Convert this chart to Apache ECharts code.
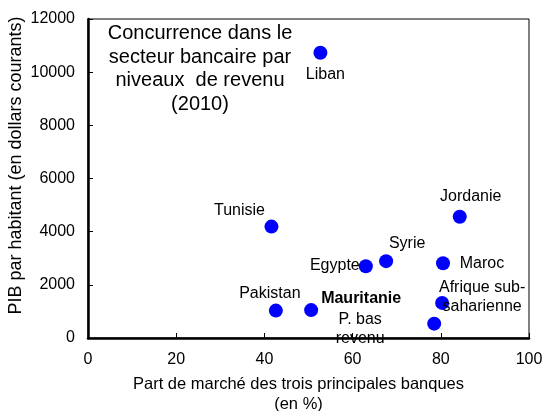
<!DOCTYPE html>
<html>
<head>
	<meta charset="utf-8" />
	<script src="https://cdn.jsdelivr.net/npm/echarts@6/dist/echarts.min.js"></script>
	<style>
		html, body { margin: 0; padding: 0; background: #fff; }
	</style>
</head>
<body>
	<div id="main" style="width: 543px;height:411px;"></div>

	<script type="text/javascript">
		// données
		var pays = ['Liban', 'Tunisie', 'Jordanie', 'Syrie', 'Egypte', 'Maroc',
			'Afrique sub-saharienne', 'P. bas revenu', 'Mauritanie', 'Pakistan'];
		var partMarche = [52.7, 41.6, 84.3, 67.6, 63.0, 80.5, 80.3, 78.5, 50.6, 42.6];
		var pibHabitant = [10730, 4190, 4560, 2890, 2700, 2810, 1320, 540, 1050, 1030];

		var xTicks = [0, 20, 40, 60, 80, 100];
		var yTicks = [0, 2000, 4000, 6000, 8000, 10000, 12000];

		// placement des étiquettes (décalage en pixels depuis le point)
		var etiquettes = {
			'Liban': { text: 'Liban', offset: [5, 22] },
			'Tunisie': { text: 'Tunisie', offset: [-32, -16] },
			'Jordanie': { text: 'Jordanie', offset: [11, -20] },
			'Syrie': { text: 'Syrie', offset: [21, -18] },
			'Egypte': { text: 'Egypte', offset: [-31, -1] },
			'Maroc': { text: 'Maroc', offset: [39, 0] },
			'Afrique sub-saharienne': { text: 'Afrique sub-\nsaharienne', offset: [40, -6] },
			'P. bas revenu': { text: 'P. bas\nrevenu', offset: [-74, 5] },
			'Mauritanie': { text: 'Mauritanie', offset: [50, -11], bold: true },
			'Pakistan': { text: 'Pakistan', offset: [-6, -17] }
		};

		var points = pays.map(function (nom, i) {
			var e = etiquettes[nom];
			return {
				name: nom,
				value: [partMarche[i], pibHabitant[i]],
				label: {
					show: true,
					position: 'inside',
					offset: e.offset,
					formatter: e.text,
					fontWeight: e.bold ? 'bold' : 'normal'
				}
			};
		});

		var myChart = echarts.init(document.getElementById('main'));

		var option = {
			animation: false,
			backgroundColor: '#fff',
			textStyle: { fontFamily: 'Liberation Sans, Arial, sans-serif' },
			title: {
				text: 'Concurrence dans le\nsecteur bancaire par\nniveaux  de revenu\n(2010)',
				left: 200,
				top: 22,
				padding: 0,
				textAlign: 'center',
				textStyle: {
					fontSize: 20,
					fontWeight: 'normal',
					color: '#000',
					lineHeight: 23.5,
					fontFamily: 'Liberation Sans, Arial, sans-serif'
				}
			},
			grid: {
				left: 88, right: 14, top: 19, bottom: 73,
				outerBoundsMode: 'none',
				show: true,
				borderColor: '#000',
				borderWidth: 1
			},
			xAxis: {
				type: 'value',
				min: xTicks[0],
				max: xTicks[xTicks.length - 1],
				interval: 20,
				name: 'Part de marché des trois principales banques\n(en %)',
				nameLocation: 'middle',
				nameGap: 36,
				nameTextStyle: {
					fontSize: 16.5, color: '#000', lineHeight: 20,
					padding: [0, 20, 0, 0]
				},
				axisLine: { lineStyle: { color: '#000', width: 2.5 } },
				axisTick: { inside: true, length: 5, lineStyle: { color: '#000', width: 1 } },
				axisLabel: { fontSize: 16, color: '#000', margin: 14 },
				splitLine: { show: false }
			},
			yAxis: {
				type: 'value',
				min: yTicks[0],
				max: yTicks[yTicks.length - 1],
				interval: 2000,
				name: 'PIB par habitant (en dollars courants)',
				nameLocation: 'middle',
				nameRotate: 90,
				nameMoveOverlap: false,
				nameGap: 63,
				nameTextStyle: { fontSize: 18, color: '#000', padding: [0, 0, 0, 26] },
				axisLine: { lineStyle: { color: '#000', width: 2.5 } },
				axisTick: { inside: true, length: 5, lineStyle: { color: '#000', width: 1 } },
				axisLabel: {
					fontSize: 16, color: '#000', margin: 13,
					formatter: function (v) { return String(v); }
				},
				splitLine: { show: false }
			},
			series: [
				{
					type: 'scatter',
					symbol: 'circle',
					symbolSize: 14,
					itemStyle: { color: '#0000ff', opacity: 1 },
					label: {
						color: '#000',
						fontSize: 16,
						lineHeight: 19,
						align: 'center',
						verticalAlign: 'middle'
					},
					emphasis: { disabled: true },
					data: points
				}
			]
		};

		myChart.setOption(option);
	</script>
</body>
</html>
